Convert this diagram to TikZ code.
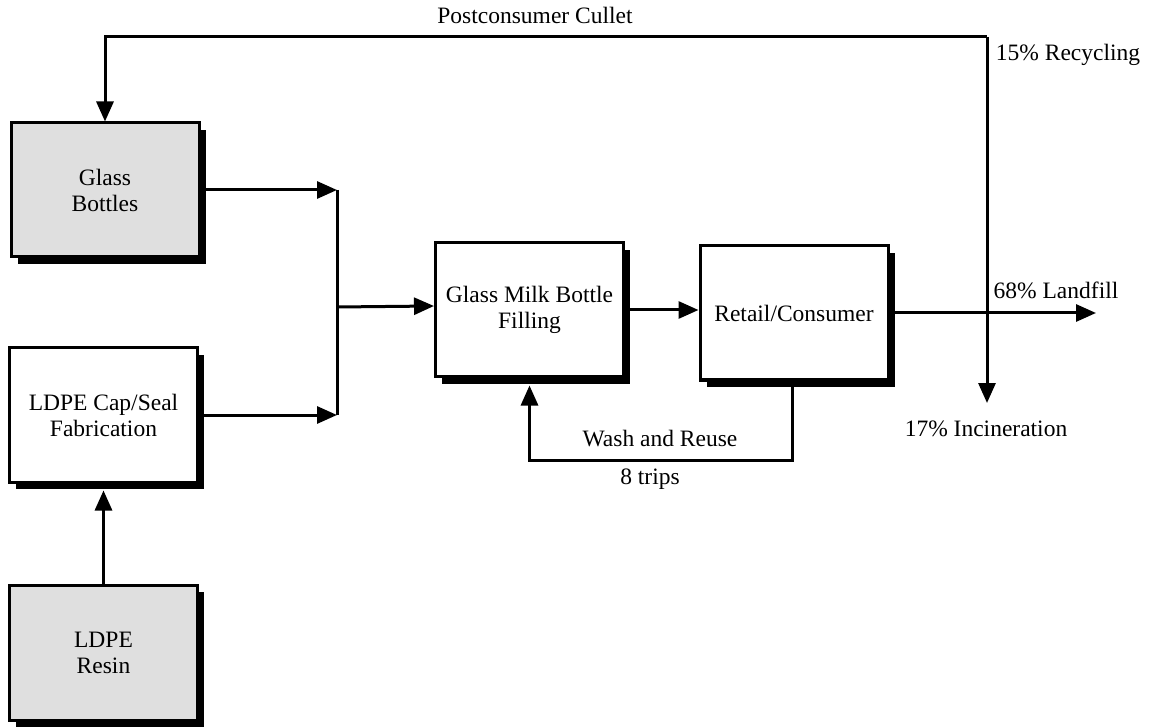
\documentclass[tikz,border=0pt]{standalone}
\usepackage{fontspec}
\setmainfont{Liberation Serif}
\usetikzlibrary{arrows.meta,shadows}
\begin{document}
\begin{tikzpicture}[x=1pt,y=-1pt,
  font=\fontsize{23.5}{26}\selectfont,
  conn/.style={line width=3pt},
  arr/.style={conn,-{Triangle[length=20pt,width=17pt]}},
  pbox/.style={draw,line width=3pt,fill=white,align=center,inner sep=0pt,
    minimum width=188pt,minimum height=134pt,
    drop shadow={shadow xshift=6.5pt,shadow yshift=-7pt,fill=black,opacity=1}},
  gbox/.style={pbox,fill=gray!25},
  lbl/.style={inner sep=0pt,anchor=center}]
\useasboundingbox (0,0) rectangle (1149,727);
\node[gbox] (gb) at (105,190) {Glass\\Bottles};
\node[pbox] (ldpe) at (103.5,415) {LDPE Cap/Seal\\Fabrication};
\node[gbox,minimum height=135pt] (resin) at (103.5,652.5) {LDPE\\Resin};
\node[pbox] (fill) at (529.5,310) {Glass Milk Bottle\\Filling};
\node[pbox] (retail) at (794,313) {Retail/Consumer};
\coordinate (j1) at (337,190);
\coordinate (j2) at (337,415);
\coordinate (jm) at (337,307);
\coordinate (rtop) at (987,37);
\coordinate (inc) at (987,403);
\coordinate (lf) at (1096,313);
\coordinate (wy) at (0,460);
% joins into filling
\draw[arr] (gb.east) -- (j1);
\draw[arr] (ldpe.east) -- (j2);
\draw[conn] (j1) -- (j2);
\draw[arr] (jm) -- ([yshift=4pt]fill.west);
\draw[arr] (resin.north) -- ([yshift=-7pt]ldpe.south);
\draw[arr] (fill.east) -- (fill.east -| retail.west);
\draw[arr] (retail.east) -- (lf);
\draw[arr] (rtop) -- (inc);
\draw[arr] (rtop) -| (gb.north);
\draw[arr] ([xshift=-2pt]retail.south) -- ([xshift=-2pt]retail.south |- wy) -| ([yshift=-7pt]fill.south);
% labels
\node[lbl] (pc) at (535,15) {Postconsumer Cullet};
\node[lbl] (rec) at (1068,55) {15\% Recycling};
\node[lbl] (land) at (1056,290) {68\% Landfill};
\node[lbl] (incl) at (986,429) {17\% Incineration};
\node[lbl] (wash) at (660,439) {Wash and Reuse};
\node[lbl] (trips) at (650,479) {8 trips};
\end{tikzpicture}
\end{document}
